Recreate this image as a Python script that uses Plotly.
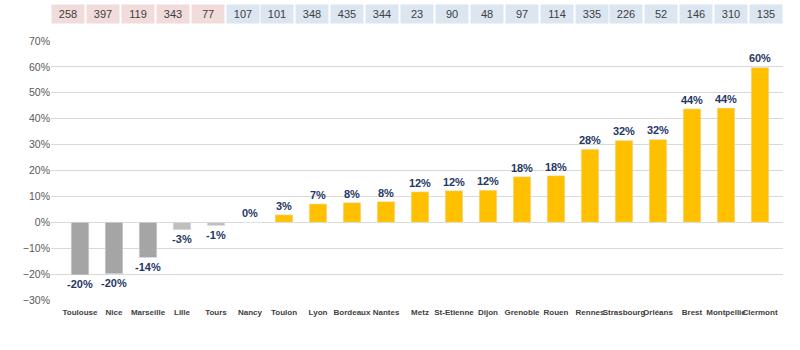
import plotly.graph_objects as go

cities = ["Toulouse", "Nice", "Marseille", "Lille", "Tours", "Nancy", "Toulon", "Lyon",
          "Bordeaux", "Nantes", "Metz", "St-Etienne", "Dijon", "Grenoble", "Rouen",
          "Rennes", "Strasbourg", "Orléans", "Brest", "Montpellie", "Clermont"]
change = [-0.203, -0.199, -0.136, -0.029, -0.013, 0.0, 0.029, 0.071, 0.076, 0.080,
          0.118, 0.122, 0.124, 0.176, 0.180, 0.282, 0.316, 0.320, 0.438, 0.441, 0.598]
counts = [258, 397, 119, 343, 77, 107, 101, 348, 435, 344, 23, 90, 48, 97, 114,
          335, 226, 52, 146, 310, 135]
tick_vals = [-0.3, -0.2, -0.1, 0, 0.1, 0.2, 0.3, 0.4, 0.5, 0.6, 0.7]

def bar_color(i, v):
    if v > 0:
        return "#FFC000"
    if i < 3:
        return "#A5A5A5"
    return "#BFBFBF"

colors = [bar_color(i, v) for i, v in enumerate(change)]

fig = go.Figure(go.Bar(
    x=cities, y=change, marker_color=colors, width=0.52,
    texttemplate="%{y:.0%}", textposition="outside", cliponaxis=False,
    textfont=dict(family="Liberation Sans", size=11, color="#1F3864", weight="bold"),
))

n = len(cities)
for i, c in enumerate(counts):
    box_bg = "#F2DCDB" if i < 5 else "#DCE6F1"
    fig.add_annotation(
        x=i, y=1, xref="x", yref="paper", yanchor="bottom",
        xshift=-12 + i * 18 / (n - 1), yshift=17,
        text=str(c), showarrow=False, bgcolor=box_bg, width=30, height=16,
        font=dict(family="Liberation Sans", size=11, color="#404040"),
    )

fig.update_layout(
    width=800, height=350, margin=dict(l=51, r=17, t=41, b=50),
    plot_bgcolor="white", paper_bgcolor="white", showlegend=False,
    bargap=0.48,
    uniformtext=dict(minsize=11, mode="show"),
    xaxis=dict(tickangle=0, ticklabelstandoff=6,
               tickfont=dict(family="Liberation Sans Narrow, Liberation Sans", size=8,
                             color="#404040", weight="bold"),
               showgrid=False, ticks="", showline=False),
    yaxis=dict(range=[-0.3, 0.7], tickvals=tick_vals, tickformat=".0%",
               tickfont=dict(family="Liberation Sans", size=10.5, color="#595959"),
               gridcolor="#D9D9D9", zeroline=True, zerolinecolor="#D9D9D9", zerolinewidth=1,
               showline=False, ticks=""),
)

fig.write_html("out.html")
